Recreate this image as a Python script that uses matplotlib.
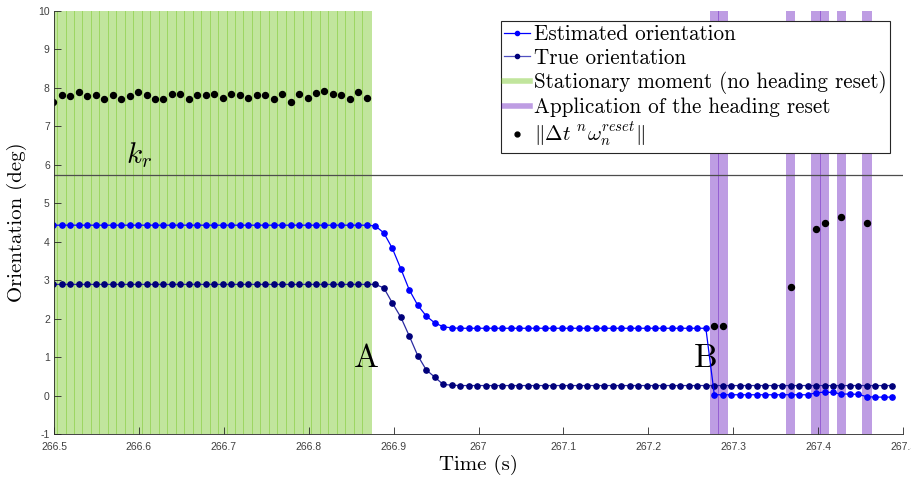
import numpy as np
import matplotlib.pyplot as plt
from matplotlib.lines import Line2D

plt.rcParams['mathtext.fontset'] = 'cm'
plt.rcParams['axes.formatter.use_mathtext'] = True
plt.rcParams['axes.unicode_minus'] = False

# Sample clock (~100 Hz)
t_start = 266.4992
dt = 0.00998
n_samples = 100
time = t_start + dt * np.arange(n_samples)

# Heading estimates (deg)
est_orientation = ([4.43] * 38
                   + [4.41, 4.23, 3.83, 3.30, 2.75, 2.35, 2.07, 1.89, 1.79, 1.76]
                   + [1.75] * 30
                   + [0.02] * 12
                   + [0.07, 0.09, 0.08, 0.04, 0.04, 0.03]
                   + [-0.03, -0.04, -0.04, -0.04])
true_orientation = ([2.89] * 39
                    + [2.80, 2.41, 2.04, 1.55, 1.04, 0.67, 0.48, 0.29, 0.27]
                    + [0.26] * 52)

# Samples flagged stationary (no reset) and samples where the reset was applied
stationary_idx = list(range(38))
reset_idx = [78, 79, 87, 90, 91, 93, 96]

# Norm of the reset rotation (deg)
reset_norm_stationary = [7.64, 7.81, 7.79, 7.90, 7.80, 7.81, 7.70, 7.81, 7.72, 7.80,
                         7.90, 7.81, 7.72, 7.72, 7.83, 7.83, 7.72, 7.81, 7.81, 7.84,
                         7.74, 7.85, 7.81, 7.74, 7.81, 7.81, 7.72, 7.85, 7.64, 7.83,
                         7.74, 7.87, 7.92, 7.83, 7.81, 7.71, 7.90, 7.74]
reset_norm_applied = [1.80, 1.80, 2.83, 4.32, 4.50, 4.65, 4.48]

k_r = np.degrees(0.1)

green = '#6ac212'
purple = '#5600b8'
green_alpha = 0.41
purple_alpha = 0.385

fig = plt.figure(figsize=(9.12, 4.8), dpi=100)
ax = fig.add_axes([0.0592, 0.0958, 0.9311, 0.8813])

# stationary / reset windows, one bar per sample
ax.bar(time[stationary_idx], 11, bottom=-1, width=dt * 1.12, color=green,
       alpha=green_alpha, linewidth=0, zorder=1)
ax.bar(time[reset_idx], 11, bottom=-1, width=dt * 1.12, color=purple,
       alpha=purple_alpha, linewidth=0, zorder=1)

# reset threshold
ax.axhline(k_r, color='0.3', lw=0.9, zorder=2)
ax.text(266.6, 6.05, r'$k_r$', fontsize=21, ha='center', va='baseline')

ax.plot(time, est_orientation, '-o', color='#0000ff', lw=0.9, ms=3.8, zorder=4)
ax.plot(time, true_orientation, '-', color='#2a2aa0', lw=0.9, zorder=3)
ax.plot(time, true_orientation, 'o', color='#00007a', ms=3.8, zorder=3)

ax.plot(time[stationary_idx], reset_norm_stationary, 'o', color='black', ms=4.3,
        zorder=5)
ax.plot(time[reset_idx], reset_norm_applied, 'o', color='black', ms=4.3, zorder=5)

ax.text(time[37], 0.75, 'A', family='cmr10', fontsize=24, ha='center',
        va='baseline')
ax.text(time[77], 0.75, 'B', family='cmr10', fontsize=24, ha='center',
        va='baseline')

ax.set_xlim(266.5, 267.5)
ax.set_ylim(-1, 10)
ax.set_xticks(np.arange(266.5, 267.51, 0.1))
ax.set_xticklabels(['266.5', '266.6', '266.7', '266.8', '266.9', '267',
                    '267.1', '267.2', '267.3', '267.4', '267.5'])
ax.set_yticks(range(-1, 11))
ax.set_yticklabels([str(v) for v in range(-1, 11)])
ax.tick_params(direction='in', length=5, width=0.6, colors='#262626',
               labelsize=7.5)
for lab in ax.get_xticklabels() + ax.get_yticklabels():
    lab.set_family('Liberation Sans')
    lab.set_color('#404040')
ax.tick_params(axis='x', pad=5.5)
ax.tick_params(axis='y', pad=3)

for side in ['top', 'right']:
    ax.spines[side].set_visible(False)
for side in ['left', 'bottom']:
    ax.spines[side].set_color('#262626')
    ax.spines[side].set_linewidth(0.6)
    ax.spines[side].set_zorder(6)

ax.set_xlabel('Time (s)', family='cmr10', fontsize=15, labelpad=2)
ax.set_ylabel('Orientation (deg)', family='cmr10', fontsize=15, labelpad=8)

handles = [
    Line2D([], [], color='#0000ff', lw=0.9, marker='o', ms=3),
    Line2D([], [], color='#5050c0', lw=0.9, marker='o', ms=3,
           markerfacecolor='#00007a', markeredgecolor='#00007a'),
    Line2D([], [], color=green, alpha=green_alpha, lw=4),
    Line2D([], [], color=purple, alpha=purple_alpha, lw=4),
    Line2D([], [], color='black', ls='none', marker='o', ms=3.5),
]
labels = ['Estimated orientation', 'True orientation',
          'Stationary moment (no heading reset)',
          'Application of the heading reset',
          r'$\Vert\Delta t\ {}^{n}\omega_{n}^{reset}\Vert$']
leg = ax.legend(handles, labels, loc='upper right', bbox_to_anchor=(0.985, 0.976),
                prop={'family': 'cmr10', 'size': 15.2}, frameon=True,
                fancybox=False, framealpha=1, edgecolor='#262626',
                handlelength=1.2, handletextpad=0.2, borderpad=0.18,
                labelspacing=0.17, borderaxespad=0)
leg.get_frame().set_linewidth(0.8)
leg.set_zorder(10)

fig.savefig('out.png', dpi=100)
